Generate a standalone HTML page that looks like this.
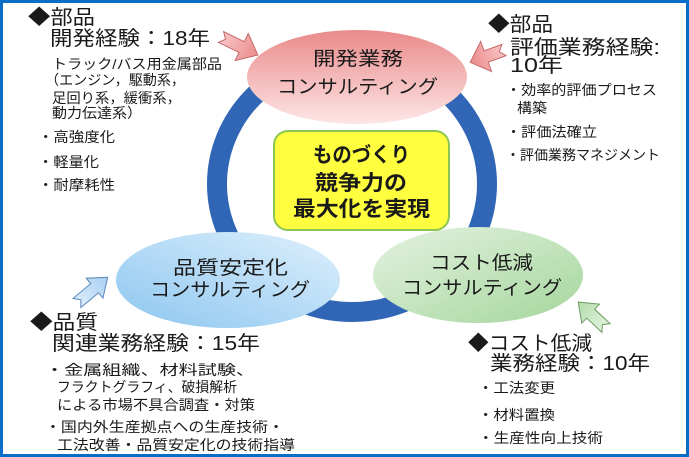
<!DOCTYPE html>
<html><head><meta charset="utf-8"><style>
html,body{margin:0;padding:0;background:#fff;}
svg{display:block;}
text{font-family:"Liberation Sans","Noto Sans CJK JP",sans-serif;fill:#1a1a1a;}
.h{font-size:20px;}
.b{font-size:14px;}
.e{font-size:19px;}
.c{font-size:21px;font-weight:700;}
</style></head><body>
<svg width="689" height="457" viewBox="0 0 689 457" xmlns="http://www.w3.org/2000/svg">
<defs>
<linearGradient id="gp" x1="0" y1="0" x2="0" y2="1">
<stop offset="0" stop-color="#ea8a8a"/><stop offset="1" stop-color="#fde6e6"/></linearGradient>
<linearGradient id="gb" x1="0" y1="1" x2="1" y2="0">
<stop offset="0" stop-color="#8cc6f0"/><stop offset="1" stop-color="#dff0fc"/></linearGradient>
<linearGradient id="gg" x1="0" y1="0" x2="1" y2="1">
<stop offset="0" stop-color="#e4f2e0"/><stop offset="1" stop-color="#a4d69c"/></linearGradient>
<linearGradient id="ap" x1="0" y1="0" x2="1" y2="0">
<stop offset="0" stop-color="#f8c4c4"/><stop offset="1" stop-color="#ec8c8c"/></linearGradient>
<linearGradient id="ab" x1="0" y1="0" x2="1" y2="0">
<stop offset="0" stop-color="#dcecfb"/><stop offset="1" stop-color="#a8d0f2"/></linearGradient>
<linearGradient id="ag" x1="0" y1="0" x2="1" y2="0">
<stop offset="0" stop-color="#e2f2de"/><stop offset="1" stop-color="#b2dcaa"/></linearGradient>
</defs>
<rect x="1.5" y="1.5" width="686" height="454" fill="#fff" stroke="#0a6ec8" stroke-width="3"/>

<!-- ring -->
<ellipse cx="352" cy="184" rx="135" ry="128" fill="none" stroke="#3166b6" stroke-width="20"/>

<!-- ellipses -->
<ellipse cx="357" cy="77" rx="110" ry="47" fill="url(#gp)"/>
<ellipse cx="228" cy="280" rx="112" ry="48" fill="url(#gb)"/>
<ellipse cx="478" cy="275" rx="105" ry="48" fill="url(#gg)"/>

<!-- center box -->
<rect x="274" y="131" width="175" height="99" rx="14" ry="14" fill="#ffff40" stroke="#8cc652" stroke-width="2"/>

<!-- arrows -->
<g transform="translate(221,37) rotate(26)">
<polygon points="0,-6 23,-6 23,-15 41,0 23,15 23,6 0,6 5,0" fill="url(#ap)" stroke="#c46a6a" stroke-width="1"/></g>
<g transform="translate(504,50) rotate(160)">
<polygon points="0,-6 19,-6 19,-16 36,0 19,16 19,6 0,6 5,0" fill="url(#ap)" stroke="#c46a6a" stroke-width="1"/></g>
<g transform="translate(77,303) rotate(-40)">
<polygon points="0,-6 23,-6 23,-13 40,0 23,13 23,6 0,6 5,0" fill="url(#ab)" stroke="#5a88b8" stroke-width="1"/></g>
<g transform="translate(606,328) rotate(-137)">
<polygon points="0,-6 21,-6 21,-13 38,0 21,13 21,6 0,6 5,0" fill="url(#ag)" stroke="#6c9c62" stroke-width="1"/></g>

<!-- ellipse labels -->
<text class="e" x="313" y="65" textLength="90" lengthAdjust="spacingAndGlyphs">開発業務</text>
<text class="e" x="277" y="93" textLength="161" lengthAdjust="spacingAndGlyphs">コンサルティング</text>
<text class="e" x="173" y="274" textLength="115" lengthAdjust="spacingAndGlyphs">品質安定化</text>
<text class="e" x="150" y="296" textLength="160" lengthAdjust="spacingAndGlyphs">コンサルティング</text>
<text class="e" x="430" y="269" textLength="103" lengthAdjust="spacingAndGlyphs">コスト低減</text>
<text class="e" x="402" y="294" textLength="160" lengthAdjust="spacingAndGlyphs">コンサルティング</text>

<!-- center labels -->
<text class="c" x="313" y="162" textLength="97" lengthAdjust="spacingAndGlyphs">ものづくり</text>
<text class="c" x="315" y="190" textLength="92" lengthAdjust="spacingAndGlyphs">競争力の</text>
<text class="c" x="293" y="216" textLength="137" lengthAdjust="spacingAndGlyphs">最大化を実現</text>

<!-- top-left block -->
<text class="h" x="28" y="24" textLength="67" lengthAdjust="spacingAndGlyphs">◆部品</text>
<text class="h" x="50" y="45" textLength="160" lengthAdjust="spacingAndGlyphs">開発経験：18年</text>
<text class="b" x="52" y="69" textLength="170" lengthAdjust="spacingAndGlyphs">トラック/バス用金属部品</text>
<text class="b" x="45" y="85" textLength="140" lengthAdjust="spacingAndGlyphs">（エンジン，駆動系，</text>
<text class="b" x="52" y="103" textLength="129" lengthAdjust="spacingAndGlyphs">足回り系，緩衝系，</text>
<text class="b" x="52" y="118" textLength="90" lengthAdjust="spacingAndGlyphs">動力伝達系）</text>
<text class="b" x="38" y="142" textLength="77" lengthAdjust="spacingAndGlyphs">・高強度化</text>
<text class="b" x="38" y="167" textLength="61" lengthAdjust="spacingAndGlyphs">・軽量化</text>
<text class="b" x="38" y="190" textLength="77" lengthAdjust="spacingAndGlyphs">・耐摩耗性</text>

<!-- top-right block -->
<text class="h" x="488" y="31" textLength="65" lengthAdjust="spacingAndGlyphs">◆部品</text>
<text class="h" x="510" y="54" textLength="150" lengthAdjust="spacingAndGlyphs">評価業務経験:</text>
<text class="h" x="510" y="72" textLength="53" lengthAdjust="spacingAndGlyphs">10年</text>
<text class="b" x="506" y="95" textLength="151" lengthAdjust="spacingAndGlyphs">・効率的評価プロセス</text>
<text class="b" x="517" y="113" textLength="30" lengthAdjust="spacingAndGlyphs">構築</text>
<text class="b" x="506" y="137" textLength="91" lengthAdjust="spacingAndGlyphs">・評価法確立</text>
<text class="b" x="506" y="160" textLength="154" lengthAdjust="spacingAndGlyphs">・評価業務マネジメント</text>

<!-- bottom-left block -->
<text class="h" x="30" y="329" textLength="68" lengthAdjust="spacingAndGlyphs">◆品質</text>
<text class="h" x="52" y="350" textLength="208" lengthAdjust="spacingAndGlyphs">関連業務経験：15年</text>
<text class="b" x="45" y="375" textLength="210" lengthAdjust="spacingAndGlyphs">・金属組織、材料試験、</text>
<text class="b" x="57" y="392" textLength="180" lengthAdjust="spacingAndGlyphs">フラクトグラフィ、破損解析</text>
<text class="b" x="57" y="410" textLength="198" lengthAdjust="spacingAndGlyphs">による市場不具合調査・対策</text>
<text class="b" x="45" y="432" textLength="239" lengthAdjust="spacingAndGlyphs">・国内外生産拠点への生産技術・</text>
<text class="b" x="57" y="450" textLength="238" lengthAdjust="spacingAndGlyphs">工法改善・品質安定化の技術指導</text>

<!-- bottom-right block -->
<text class="h" x="468" y="350" textLength="124" lengthAdjust="spacingAndGlyphs">◆コスト低減</text>
<text class="h" x="490" y="370" textLength="160" lengthAdjust="spacingAndGlyphs">業務経験：10年</text>
<text class="b" x="478" y="393" textLength="77" lengthAdjust="spacingAndGlyphs">・工法変更</text>
<text class="b" x="478" y="420" textLength="77" lengthAdjust="spacingAndGlyphs">・材料置換</text>
<text class="b" x="478" y="443" textLength="125" lengthAdjust="spacingAndGlyphs">・生産性向上技術</text>
</svg>
</body></html>
